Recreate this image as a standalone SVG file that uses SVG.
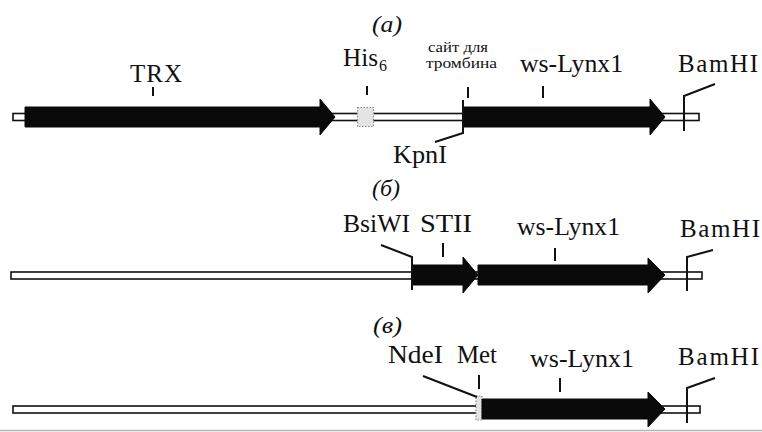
<svg xmlns="http://www.w3.org/2000/svg" width="762" height="432" viewBox="0 0 762 432" font-family="'Liberation Serif', 'DejaVu Serif', serif">
<style>
.t{font-family:'Liberation Serif','DejaVu Serif',serif;font-size:25px;fill:#111}
.it{font-style:italic;font-size:23px}
.sm{font-size:14px}
.bb{fill:#fff;stroke:#111;stroke-width:1.6}
.ar{fill:#0a0a0a;stroke:#0a0a0a;stroke-width:1;stroke-linejoin:round}
.ln{fill:none;stroke:#111;stroke-width:2;stroke-linejoin:miter}
.box{fill:#e4e4e4;stroke:#8a8a8a;stroke-width:1.2;stroke-dasharray:1.5 1.5}
</style>
<rect width="762" height="432" fill="#fff"/>

<!-- Panel a -->
<g id="panel-a-label"><text class="t it" x="372" y="32" textLength="30" lengthAdjust="spacingAndGlyphs">(a)</text></g>
<g id="a-backbone"><rect class="bb" x="13" y="113.5" width="686" height="7"/></g>
<g id="a-TRX">
<polygon class="ar" points="25,107 320,107 320,99 335,117 320,135 320,127 25,127"/>
<text class="t" x="130" y="82" textLength="52" lengthAdjust="spacing">TRX</text>
</g>
<g id="a-His6">
<rect class="box" x="357.5" y="107.5" width="16" height="19"/>
<text class="t" x="343" y="66" textLength="35" lengthAdjust="spacingAndGlyphs">His</text>
<text class="t" x="379" y="71" style="font-size:16px">6</text>
</g>
<g id="a-thrombin">
<text class="t sm" x="428" y="52" textLength="60" lengthAdjust="spacingAndGlyphs">сайт для</text>
<text class="t sm" x="426" y="68" textLength="71" lengthAdjust="spacingAndGlyphs">тромбина</text>
</g>
<g id="a-KpnI">
<text class="t" x="393" y="163" textLength="54" lengthAdjust="spacingAndGlyphs">KpnI</text>
</g>
<g id="a-wsLynx1">
<polygon class="ar" points="463,107 650,107 650,99 665,117 650,135 650,127 463,127"/>
<text class="t" x="520" y="72" textLength="103" lengthAdjust="spacingAndGlyphs">ws-Lynx1</text>
</g>
<g id="a-BamHI">
<text class="t" x="678" y="72" textLength="80" lengthAdjust="spacing">BamHI</text>
</g>

<!-- Panel b -->
<g id="panel-b-label"><text class="t it" x="372" y="196" textLength="28" lengthAdjust="spacingAndGlyphs">(б)</text></g>
<g id="b-backbone"><rect class="bb" x="11" y="272" width="691" height="7"/></g>
<g id="b-BsiWI">
<text class="t" x="343" y="232" textLength="67" lengthAdjust="spacingAndGlyphs">BsiWI</text>
</g>
<g id="b-STII">
<polygon class="ar" points="412,265 463,265 463,257 478,275 463,293 463,285 412,285"/>
<text class="t" x="420" y="232" textLength="52" lengthAdjust="spacingAndGlyphs">STII</text>
</g>
<g id="b-wsLynx1">
<polygon class="ar" points="478,265 648,265 648,258 665,275 648,293 648,285 478,285"/>
<text class="t" x="517" y="235" textLength="103" lengthAdjust="spacingAndGlyphs">ws-Lynx1</text>
</g>
<g id="b-BamHI">
<text class="t" x="680" y="237" textLength="80" lengthAdjust="spacing">BamHI</text>
</g>

<!-- Panel c -->
<g id="panel-c-label"><text class="t it" x="373" y="333" textLength="29" lengthAdjust="spacingAndGlyphs">(в)</text></g>
<g id="c-backbone"><rect class="bb" x="13" y="406" width="687" height="7"/></g>
<g id="c-NdeI">
<text class="t" x="388" y="363" textLength="55" lengthAdjust="spacingAndGlyphs">NdeI</text>
</g>
<g id="c-Met">
<rect class="box" x="476" y="396" width="6" height="24"/>
<text class="t" x="457" y="363" textLength="40" lengthAdjust="spacingAndGlyphs">Met</text>
</g>
<g id="c-wsLynx1">
<polygon class="ar" points="482,399 648,399 648,392 665,409 648,427 648,419 482,419"/>
<text class="t" x="530" y="367" textLength="104" lengthAdjust="spacingAndGlyphs">ws-Lynx1</text>
</g>
<g id="c-BamHI">
<text class="t" x="678" y="365" textLength="81" lengthAdjust="spacing">BamHI</text>
</g>

<!-- Connectors: ticks and leader lines -->
<g id="connectors">
<line class="ln" x1="153" y1="87" x2="153" y2="96"/>
<line class="ln" x1="367" y1="86" x2="367" y2="95"/>
<line class="ln" x1="468" y1="87" x2="468" y2="98"/>
<line class="ln" x1="543" y1="86" x2="543" y2="98"/>
<polyline class="ln" points="463,100 463,133 435,142"/>
<polyline class="ln" points="715,84 684,96 684,131"/>

<line class="ln" x1="443" y1="243" x2="443" y2="257"/>
<line class="ln" x1="555" y1="248" x2="555" y2="261"/>
<polyline class="ln" points="381,245 412,257 412,290"/>
<polyline class="ln" points="713,250 687,257 687,291"/>

<line class="ln" x1="479" y1="375" x2="479" y2="389"/>
<line class="ln" x1="560" y1="378" x2="560" y2="392"/>
<line class="ln" x1="423" y1="376" x2="477" y2="397"/>
<polyline class="ln" points="715,378 687,388 687,423"/>
</g>
<line x1="0" y1="430.5" x2="762" y2="430.5" stroke="#b5b5b5" stroke-width="1.5"/>
</svg>
